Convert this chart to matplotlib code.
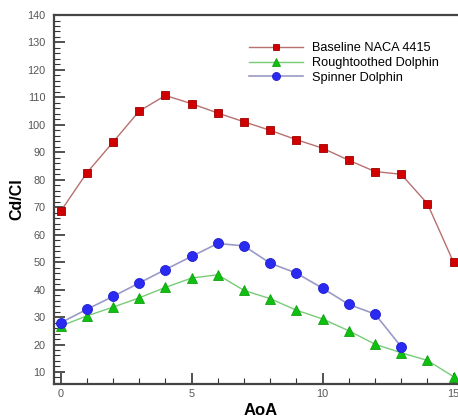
import matplotlib.pyplot as plt
from matplotlib.ticker import MultipleLocator

plt.rcParams['font.family'] = ['Liberation Sans', 'DejaVu Sans']

aoa = list(range(16))
baseline = [68.5, 82.5, 93.7, 105.0, 110.7, 107.7, 104.3, 101.1, 98.0, 94.6,
            91.5, 87.1, 83.0, 82.0, 71.3, 49.9]
rough_aoa = list(range(16))
roughtoothed = [26.7, 30.4, 33.6, 37.0, 40.8, 44.2, 45.4, 39.7, 36.7, 32.5,
                29.3, 25.0, 20.1, 17.0, 14.2, 8.3]
spinner_aoa = list(range(14))
spinner = [27.9, 32.8, 37.5, 42.4, 47.3, 52.1, 56.8, 55.9, 49.6, 46.0,
           40.5, 34.6, 31.1, 19.2]

fig = plt.figure(figsize=(4.58, 4.17), dpi=100)
# axes run past the right edge of the figure on purpose
ax = fig.add_axes([0.118, 0.079, 0.901, 0.885])

ax.plot(aoa, baseline, color='#b87070', lw=1.0, marker='s', ms=6,
        mfc='#d00000', mec='#a00000', mew=0.6, label='Baseline NACA 4415')
ax.plot(rough_aoa, roughtoothed, color='#77cc77', lw=1.0, marker='^', ms=6.5,
        mfc='#10c010', mec='#10a010', mew=0.6, label='Roughtoothed Dolphin')
ax.plot(spinner_aoa, spinner, color='#9a9ac8', lw=1.2, marker='o', ms=7.2,
        mfc='#2a2af0', mec='#2020d0', mew=0.6, label='Spinner Dolphin')

ax.set_xlim(-0.25, 15.5)
ax.set_ylim(5.6, 140)

ax.xaxis.set_major_locator(MultipleLocator(5))
ax.xaxis.set_minor_locator(MultipleLocator(1))
ax.yaxis.set_major_locator(MultipleLocator(10))
ax.yaxis.set_minor_locator(MultipleLocator(2))
ax.tick_params(which='both', direction='in', colors='#333333',
               labelcolor='#555555', labelsize=7.8)
ax.tick_params(which='major', length=8, width=1.2)
ax.tick_params(which='minor', length=4, width=0.8)
ax.tick_params(axis='y', which='both', right=False, pad=6)
ax.tick_params(axis='x', which='both', top=False)

for s in ax.spines.values():
    s.set_color('#444444')
    s.set_linewidth(1.6)

ax.set_xlabel('AoA', fontsize=12, fontweight='bold', labelpad=3)
ax.set_ylabel('Cd/Cl', fontsize=11.5, fontweight='bold', labelpad=2)

ax.legend(loc='upper left', bbox_to_anchor=(0.458, 0.943), frameon=False,
          fontsize=9.2, handlelength=4.2, handletextpad=0.7, labelspacing=0.2,
          borderpad=0, markerscale=0.8)

fig.savefig('out.png', dpi=100)
